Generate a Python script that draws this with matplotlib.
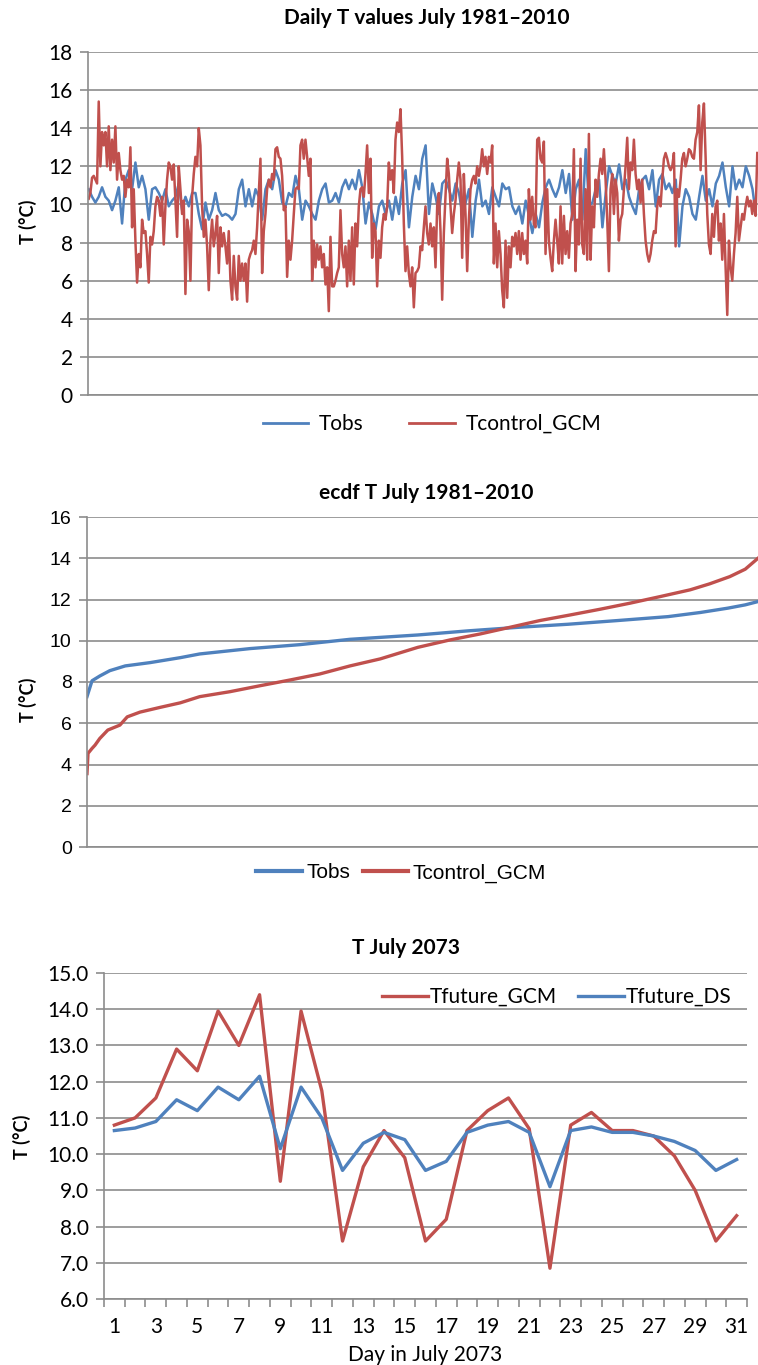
import numpy as np
import matplotlib
matplotlib.use('Agg')
import matplotlib.pyplot as plt
from matplotlib import font_manager

# ---- panel 1: daily July values 1981-2010 (30 years x 31 days)
n_days = 930
tcontrol_gcm = [
    10.3, 10.6, 11.4, 11.5, 11.3, 11.1, 15.4, 12.0, 13.8, 13.1, 13.8, 12.0, 14.1, 11.8, 13.4, 12.2,
    14.1, 11.3, 12.7, 11.8, 11.3, 11.5, 10.4, 11.3, 10.9, 13.0, 8.8, 10.8, 8.1, 5.9, 7.4, 6.7,
    9.2, 8.5, 8.6, 7.4, 5.9, 8.3, 7.9, 8.6, 9.9, 10.4, 10.2, 9.4, 10.4, 7.9, 9.9, 11.3,
    12.2, 12.0, 11.3, 12.1, 10.2, 8.3, 12.0, 10.8, 9.5, 10.2, 5.3, 9.2, 8.6, 6.0, 10.4, 11.6,
    12.5, 12.0, 14.0, 13.1, 9.9, 8.3, 9.2, 7.8, 5.5, 8.1, 9.2, 7.8, 8.5, 9.4, 6.4, 8.8,
    7.8, 8.5, 7.8, 6.9, 8.6, 6.0, 5.0, 7.3, 5.7, 5.0, 7.3, 6.0, 6.9, 6.0, 6.9, 4.9,
    7.1, 7.4, 7.6, 8.1, 7.4, 8.8, 10.6, 12.4, 6.4, 8.6, 9.5, 10.8, 11.3, 10.9, 11.6, 11.3,
    12.9, 13.0, 12.5, 12.4, 11.5, 9.7, 9.9, 6.2, 8.1, 7.1, 8.1, 9.5, 10.8, 10.9, 10.8, 13.1,
    13.4, 12.4, 13.4, 12.5, 11.5,
    12.4, 6.0, 8.1, 6.7, 7.9, 7.1, 7.8, 6.7, 7.4, 5.8, 6.7, 4.4, 8.3, 5.7, 5.7, 6.0,
    6.4, 6.7, 9.7, 7.4, 6.7, 7.8, 5.7, 8.1, 6.0, 8.8, 5.8, 9.0, 7.8, 9.9, 10.8, 10.9,
    10.4, 11.6, 13.1, 10.6, 12.4, 7.2, 9.0, 8.6, 5.7, 8.1, 7.2, 8.8, 9.5, 9.2, 9.9, 12.2,
    11.3, 11.8, 10.6, 13.4, 14.3, 13.8, 15.0, 12.5, 9.0, 6.5, 7.8, 6.4, 5.7, 6.7, 4.6, 6.4,
    6.5, 6.7, 7.8, 7.6, 8.8, 9.9, 8.5, 7.9, 9.0, 7.8, 8.8, 6.7, 9.9, 10.6, 8.6, 5.0,
    8.5, 10.4, 12.4, 11.6, 9.9, 8.5, 9.5, 10.2, 11.3, 12.2, 11.3, 7.2, 11.6, 9.5, 6.5, 9.2,
    10.8, 11.3, 11.5, 11.1, 12.0, 11.5, 12.0, 12.9, 12.0, 12.5, 11.6, 12.5, 12.2, 13.1, 6.9, 9.0,
    6.7, 8.6, 7.4, 5.5, 4.6, 8.1, 5.1, 7.8, 6.7, 8.3, 7.8, 8.5, 7.4, 8.6, 7.1, 8.5,
    7.4, 8.1, 6.9, 10.8, 9.2,
    10.4, 9.0, 8.8, 13.4, 13.5, 12.4, 12.2, 13.3, 7.4, 10.8, 8.1, 7.2, 6.5, 8.1, 9.2, 8.1,
    6.9, 9.9, 6.9, 9.4, 7.4, 8.6, 7.2, 9.0, 9.5, 12.9, 6.5, 9.2, 7.9, 12.4, 7.9, 7.4,
    10.8, 7.1, 13.7, 7.1, 9.9, 8.8, 11.3, 10.4, 11.6, 12.4, 11.6, 12.9, 11.3, 9.2, 6.5, 10.8,
    11.6, 9.5, 11.3, 10.6, 8.1, 9.2, 9.5, 10.8, 12.0, 13.5, 10.8, 12.2, 11.8, 13.4, 11.6, 10.8,
    11.3, 10.1, 11.3, 9.5, 8.1, 7.4, 7.0, 7.4, 8.1, 8.6, 8.5, 9.9, 10.4, 9.9, 11.3, 12.4,
    12.7, 12.4, 12.0, 11.8, 12.0, 12.7, 7.8, 10.8, 10.4, 11.3, 12.4, 12.7, 12.0, 12.4, 12.9, 12.8,
    12.5, 12.4, 13.4, 13.8, 15.2, 11.8, 14.3, 15.3, 12.5, 9.5, 7.9, 7.4, 9.5, 8.3, 9.9, 10.2,
    8.1, 9.0, 7.1, 9.5, 6.7, 4.2, 8.1, 6.7, 6.0, 7.4, 8.5, 10.4, 8.1, 8.8, 9.5, 9.2,
    9.9, 10.4, 9.9, 10.2, 9.5, 10.2, 9.4, 12.7,
]
tobs = [
    10.8, 10.4, 10.1, 10.4, 10.9, 10.4, 10.2, 9.7, 10.2, 10.9, 9.0, 11.3, 11.8, 10.8, 12.2, 10.9,
    11.5, 10.8, 9.2, 10.8, 10.9, 10.6, 10.2, 10.8, 9.9, 10.2, 10.4, 11.1, 9.7, 10.4, 9.9, 10.6,
    10.6, 9.5, 8.7, 10.1, 9.2, 9.7, 10.6, 9.7, 9.4, 9.5, 9.4, 9.2, 9.5, 10.8, 11.3, 9.9,
    10.8, 9.9, 10.8, 10.4, 9.2, 10.8, 11.3, 10.8, 11.8, 11.3, 10.1, 9.9, 10.6, 10.4, 11.5, 10.8,
    9.2, 10.2, 9.9,
    9.5, 9.2, 10.2, 10.8, 11.1, 10.1, 10.2, 10.6, 10.1, 10.9, 11.3, 10.8, 11.3, 10.8, 11.8, 10.9,
    9.0, 10.1, 9.5, 8.7, 9.9, 10.2, 9.5, 10.2, 9.2, 10.4, 9.5, 11.1, 11.8, 8.8, 10.4, 11.5,
    10.8, 12.4, 13.1, 9.5, 11.1, 10.4, 9.5, 11.1, 11.3, 10.8, 10.2, 11.1, 10.6, 9.5, 10.1, 10.8,
    8.3, 10.2, 11.3, 9.9, 10.2, 9.5, 10.9, 10.4, 9.9, 11.1, 10.8, 10.9, 9.9, 9.5, 9.9, 9.0,
    10.2, 9.4,
    8.5, 9.5, 8.8, 10.1, 10.9, 11.3, 10.8, 10.4, 10.9, 11.8, 10.6, 11.6, 9.2, 10.8, 11.3, 9.2,
    12.9, 9.9, 10.1, 10.8, 11.3, 8.8, 10.6, 12.0, 11.5, 11.1, 12.1, 10.8, 11.3, 10.4, 9.9, 9.5,
    10.8, 11.3, 11.5, 10.8, 11.8, 9.9, 11.3, 11.6, 10.8, 11.1, 10.6, 11.3, 7.8, 9.9, 10.8, 10.4,
    9.5, 9.2, 10.4, 11.5, 10.2, 10.8, 9.9, 11.1, 11.5, 12.2, 10.9, 9.9, 12.0, 10.8, 11.3, 10.9,
    12.0, 11.5, 10.8, 9.5,
]

# ---- panel 2: empirical quantiles (cumulative probability -> T)
obs_prob = [0, 0.0075, 0.019, 0.034, 0.057, 0.094, 0.139, 0.168, 0.243, 0.317, 0.392,
            0.493, 0.568, 0.642, 0.717, 0.791, 0.866, 0.914, 0.955, 0.981, 1.0]
obs_quant = [7.29, 8.06, 8.29, 8.55, 8.78, 8.94, 9.18, 9.36, 9.62, 9.81, 10.07,
             10.28, 10.48, 10.65, 10.80, 10.98, 11.17, 11.37, 11.58, 11.74, 11.9]
gcm_prob = [0, 0.0015, 0.0075, 0.012, 0.019, 0.031, 0.049, 0.060, 0.079, 0.109, 0.139,
            0.168, 0.213, 0.258, 0.303, 0.347, 0.392, 0.437, 0.493, 0.541, 0.586, 0.630,
            0.675, 0.720, 0.765, 0.809, 0.854, 0.899, 0.928, 0.958, 0.981, 1.0]
gcm_quant = [3.56, 4.54, 4.78, 4.94, 5.26, 5.67, 5.91, 6.31, 6.54, 6.77, 6.99,
             7.29, 7.53, 7.82, 8.10, 8.39, 8.78, 9.12, 9.68, 10.04, 10.33, 10.65,
             10.98, 11.25, 11.53, 11.82, 12.14, 12.47, 12.76, 13.11, 13.47, 14.0]

# ---- panel 3: July 2073
days = list(range(1, 32))
tfuture_gcm = [10.8, 11.0, 11.55, 12.9, 12.3, 13.95, 13.0, 14.4, 9.25, 13.95, 11.75, 7.6,
               9.65, 10.65, 9.9, 7.6, 8.2, 10.65, 11.2, 11.55, 10.7, 6.85, 10.8, 11.15,
               10.65, 10.65, 10.5, 9.95, 9.0, 7.6, 8.3]
tfuture_ds = [10.65, 10.72, 10.9, 11.5, 11.2, 11.85, 11.5, 12.15, 10.15, 11.85, 11.0, 9.55,
              10.3, 10.6, 10.4, 9.55, 9.8, 10.6, 10.8, 10.9, 10.6, 9.1, 10.65, 10.75,
              10.6, 10.6, 10.5, 10.35, 10.1, 9.55, 9.85]

RED = '#C0504D'
BLUE = '#4F81BD'
GRID = '#8C8C8C'

installed = {f.name for f in font_manager.fontManager.ttflist}
FUT = 'Lato'
ARIAL = 'Liberation Sans'
NARROW = 'Liberation Sans Narrow' if 'Liberation Sans Narrow' in installed else 'Lato'

W, H = 758, 1365
fig = plt.figure(figsize=(W / 100, H / 100), dpi=100)


def box(x0, y_top, x1, y_bot):
    # pixel box -> figure fraction
    return [x0 / W, 1 - y_bot / H, (x1 - x0) / W, (y_bot - y_top) / H]


def style(ax, family, size):
    ax.grid(axis='y', color=GRID, lw=1.2)
    ax.set_axisbelow(True)
    for s in ['top', 'right']:
        ax.spines[s].set_visible(False)
    for s in ['left', 'bottom']:
        ax.spines[s].set_color(GRID)
        ax.spines[s].set_linewidth(1.2)
    ax.tick_params(axis='y', direction='out', length=6, width=1.2, color=GRID,
                   labelsize=size, pad=5)
    for lab in ax.get_yticklabels():
        lab.set_family(family)


# ---- panel 1
ax1 = fig.add_axes(box(88, 52, 758, 395))
ax1.plot(np.linspace(1, 926, len(tobs)), tobs, color=BLUE, lw=1.8)
ax1.plot(np.linspace(1, 928, len(tcontrol_gcm)), tcontrol_gcm, color=RED, lw=1.8)
ax1.set_xlim(0, n_days - 1)
ax1.set_ylim(0, 18)
ax1.set_yticks(range(0, 19, 2))
ax1.set_xticks([])
style(ax1, FUT, 15)
fig.text(427 / W, 1 - 18 / H, 'Daily T values July 1981–2010', ha='center', va='center',
         family=FUT, weight='bold', fontsize=15)
fig.text(28 / W, 1 - 222 / H, 'T (°C)', rotation=90, ha='center', va='center',
         family=FUT, weight='bold', fontsize=13)
h1 = [plt.Line2D([], [], color=BLUE, lw=2), plt.Line2D([], [], color=RED, lw=2)]
fig.legend(h1, ['Tobs', 'Tcontrol_GCM'], loc='center', ncol=2, frameon=False,
           bbox_to_anchor=(432 / W, 1 - 424 / H), prop={'family': FUT, 'size': 15},
           handlelength=2.2, handletextpad=0.5, columnspacing=2.2)

# ---- panel 2
ax2 = fig.add_axes(box(87, 517, 758, 847))
ax2.plot(obs_prob, obs_quant, color=BLUE, lw=2.4)
ax2.plot(gcm_prob, gcm_quant, color=RED, lw=2.4)
ax2.set_xlim(0, 1)
ax2.set_ylim(0, 16)
ax2.set_yticks(range(0, 17, 2))
ax2.set_xticks([])
style(ax2, ARIAL, 14)
fig.text(426 / W, 1 - 493 / H, 'ecdf T July 1981–2010', ha='center', va='center',
         family=FUT, weight='bold', fontsize=15)
fig.text(28 / W, 1 - 700 / H, 'T (°C)', rotation=90, ha='center', va='center',
         family=FUT, weight='bold', fontsize=13)
h2 = [plt.Line2D([], [], color=BLUE, lw=3), plt.Line2D([], [], color=RED, lw=3)]
fig.legend(h2, ['Tobs', 'Tcontrol_GCM'], loc='center', ncol=2, frameon=False,
           bbox_to_anchor=(401 / W, 1 - 873 / H), prop={'family': ARIAL, 'size': 15},
           handlelength=2.2, handletextpad=0.2, columnspacing=0.6)

# ---- panel 3
ax3 = fig.add_axes(box(104, 973, 747, 1299))
ax3.plot(days, tfuture_gcm, color=RED, lw=2.4, label='Tfuture_GCM')
ax3.plot(days, tfuture_ds, color=BLUE, lw=2.4, label='Tfuture_DS')
ax3.set_xlim(0.5, 31.5)
ax3.set_ylim(6, 15)
ax3.set_yticks(np.arange(6, 15.5, 1.0))
ax3.set_yticklabels([f'{v:.1f}' for v in np.arange(6, 15.5, 1.0)])
ax3.set_xticks(np.arange(0.5, 32, 1.0))
ax3.set_xticklabels([])
ax3.set_xticks(days[::2], minor=True)
ax3.set_xticklabels([str(d) for d in days[::2]], minor=True, family=NARROW, fontsize=15)
ax3.tick_params(axis='x', which='major', direction='out', length=6, width=1.2, color=GRID)
ax3.tick_params(axis='x', which='minor', length=0, pad=13)
style(ax3, NARROW, 15)
ax3.set_xlabel('Day in July 2073', family=FUT, fontsize=15, labelpad=6)
fig.text(406 / W, 1 - 948 / H, 'T July 2073', ha='center', va='center',
         family=FUT, weight='bold', fontsize=15)
fig.text(22 / W, 1 - 1137 / H, 'T (°C)', rotation=90, ha='center', va='center',
         family=FUT, weight='bold', fontsize=13)
ax3.legend(loc='center', ncol=2, frameon=False, bbox_to_anchor=(557 / W, 1 - 997 / H),
           bbox_transform=fig.transFigure, prop={'family': FUT, 'size': 15},
           handlelength=2.2, handletextpad=0.1, columnspacing=1.0)

fig.savefig('out.png', dpi=100)
